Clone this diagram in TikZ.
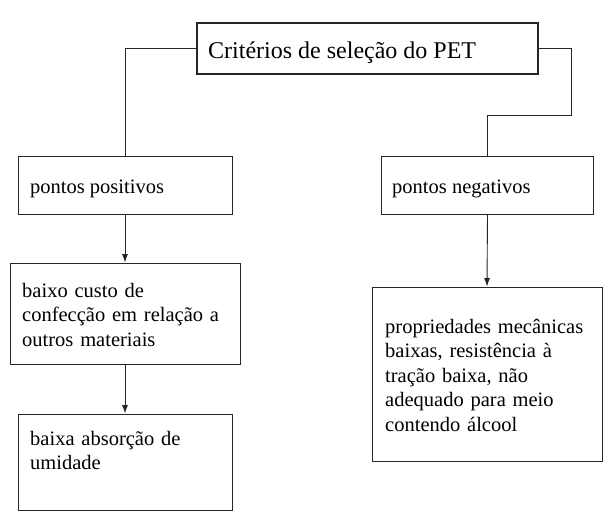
\documentclass[tikz,border=0pt]{standalone}
\usepackage{fontspec}
\setmainfont{Liberation Serif}
\usetikzlibrary{arrows.meta}
\begin{document}
\begin{tikzpicture}[x=1pt,y=-1pt,
  box/.style={draw=black!85,line width=0.9pt,rectangle,inner sep=0pt},
  txt/.style={inner sep=0pt,anchor=base west,align=left,font=\fontsize{20.5}{24.5}\selectfont},
  conn/.style={draw=black!85,line width=0.9pt},
  arr/.style={conn,-{Latex[length=8.5pt,width=6pt]}}]
\useasboundingbox (0,0) rectangle (616,530);
\node[box,line width=2.6pt,minimum width=341pt,minimum height=51pt] (top) at (367.5,48.5) {};
\node[box,minimum width=214pt,minimum height=58pt] (pos) at (125,185) {};
\node[box,minimum width=230pt,minimum height=101pt] (cost) at (125,313.5) {};
\node[box,minimum width=214pt,minimum height=96pt] (umid) at (125,462) {};
\node[box,minimum width=212pt,minimum height=58pt] (neg) at (487.5,185) {};
\node[box,minimum width=230pt,minimum height=174pt] (prop) at (487,374) {};
\node[txt,font=\fontsize{24}{28}\selectfont] (ttop) at (208,58) {Critérios de seleção do PET};
\node[txt] (tpos) at (30,193) {pontos positivos};
\node[txt] (tneg) at (392,193) {pontos negativos};
\node[txt,text width=215pt] (tcost) at (22,297) {baixo custo de\\confecção em relação a\\outros materiais};
\node[txt,text width=200pt] (tumid) at (30,445) {baixa absorção de\\umidade};
\node[txt,text width=215pt] (tprop) at (385,333) {propriedades mecânicas\\baixas, resistência à\\tração baixa, não\\adequado para meio\\contendo álcool};
\coordinate (rc) at (571,115);
\draw[conn] (top.west) -| (pos.north);
\draw[conn] (top.east) -| (rc) -| (neg.north);
\draw[arr] (pos.south) -- (cost.north);
\draw[arr] (cost.south) -- (umid.north);
\draw[arr] (neg.south) -- (prop.north);
\end{tikzpicture}
\end{document}
